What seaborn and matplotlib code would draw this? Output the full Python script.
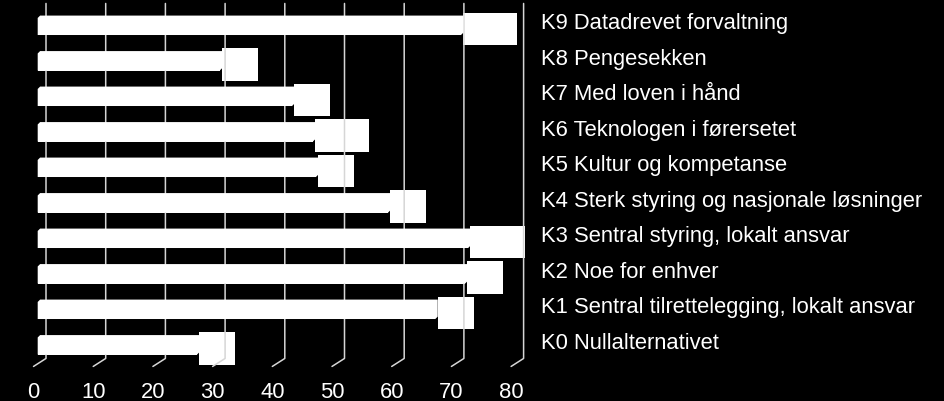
import numpy as np
import pandas as pd
import matplotlib
matplotlib.use("Agg")
import matplotlib.pyplot as plt
import matplotlib.transforms as mtransforms
from matplotlib.lines import Line2D
from matplotlib.patches import Polygon
import seaborn as sns

categories = ["K9 Datadrevet forvaltning", "K8 Pengesekken", "K7 Med loven i hånd",
              "K6 Teknologen i førersetet", "K5 Kultur og kompetanse",
              "K4 Sterk styring og nasjonale løsninger", "K3 Sentral styring, lokalt ansvar",
              "K2 Noe for enhver", "K1 Sentral tilrettelegging, lokalt ansvar",
              "K0 Nullalternativet"]
values = [70.9, 30.5, 42.6, 46.1, 46.6, 58.7, 72.1, 71.6, 66.6, 26.7]
value_labels = ["70,9", "31", "43", "46,1", "47", "59", "72,1", "72", "67", "27"]
x_ticks = [0, 10, 20, 30, 40, 50, 60, 70, 80]

sns.set_theme(style="white")
plt.rcParams["font.family"] = ["Liberation Sans", "DejaVu Sans"]

W, H = 944, 402
DPI = 100
FS = 15.8
fig = plt.figure(figsize=(W / DPI, H / DPI), dpi=DPI, facecolor="black")

left_px, right_px = 37.7, 37.7 + 80 * 5.97
top_px, bottom_px = 9.75, 364.75
ax = fig.add_axes([left_px / W, 1 - bottom_px / H,
                   (right_px - left_px) / W, (bottom_px - top_px) / H])
ax.set_facecolor("black")

df = pd.DataFrame({"category": categories, "value": values})
sns.barplot(data=df, x="value", y="category", orient="h", color="white",
            width=0.48, saturation=1, ax=ax, zorder=3, edgecolor="none")
ax.set_xlim(0, 80)
ax.set_ylim(len(categories) - 0.5, -0.5)
ax.axis("off")


def off(dx, dy):
    return mtransforms.ScaledTranslation(dx / DPI, dy / DPI, fig.dpi_scale_trans)


# 3D top / end faces of the bars
d = 2.4
for p in list(ax.patches):
    bb = p.get_window_extent()
    x0, x1, y0, y1 = bb.x0, bb.x1, bb.y0, bb.y1
    poly = Polygon([(x0, y1), (x0 + d, y1 + d), (x1 + d, y1 + d),
                    (x1 + d, y0 + d), (x1, y0), (x0, y0)], closed=True,
                   transform=mtransforms.IdentityTransform(), fc="white",
                   ec="none", zorder=3)
    fig.add_artist(poly)

trans_xa = ax.get_xaxis_transform()
grid_color = "#d6d6d6"
back_dx, back_dy = 8.3, 5.3
front_dx, front_dy = -4.2, -2.7
for v in x_ticks:
    bt = trans_xa.transform((v, 1))
    bb = trans_xa.transform((v, 0))
    xs = [bt[0] + back_dx, bb[0] + back_dx, bb[0] + front_dx]
    ys = [bt[1] + back_dy, bb[1] + back_dy, bb[1] + front_dy]
    fig.add_artist(Line2D(xs, ys, transform=mtransforms.IdentityTransform(),
                          color=grid_color, lw=1.1, zorder=1))
    ax.text(v, 0, str(v), transform=trans_xa + off(front_dx, -33.5),
            ha="center", va="baseline", color="white", fontsize=FS)

trans_ya = mtransforms.blended_transform_factory(ax.transAxes, ax.transData)
for i, cat in enumerate(categories):
    ax.text(1, i, cat, transform=trans_ya + off(26.0, -2.0), ha="left",
            va="baseline", color="white", fontsize=FS)

for i, (val, lab) in enumerate(zip(values, value_labels)):
    t = ax.text(val, i, lab, transform=ax.transData + off(8, -2.5), ha="left",
                va="center", color="white", fontsize=FS, zorder=5,
                bbox=dict(boxstyle="square,pad=0.26", fc="white", ec="none"))
    t.get_bbox_patch().set_zorder(5)

fig.savefig("out.png", dpi=DPI, facecolor="black")
